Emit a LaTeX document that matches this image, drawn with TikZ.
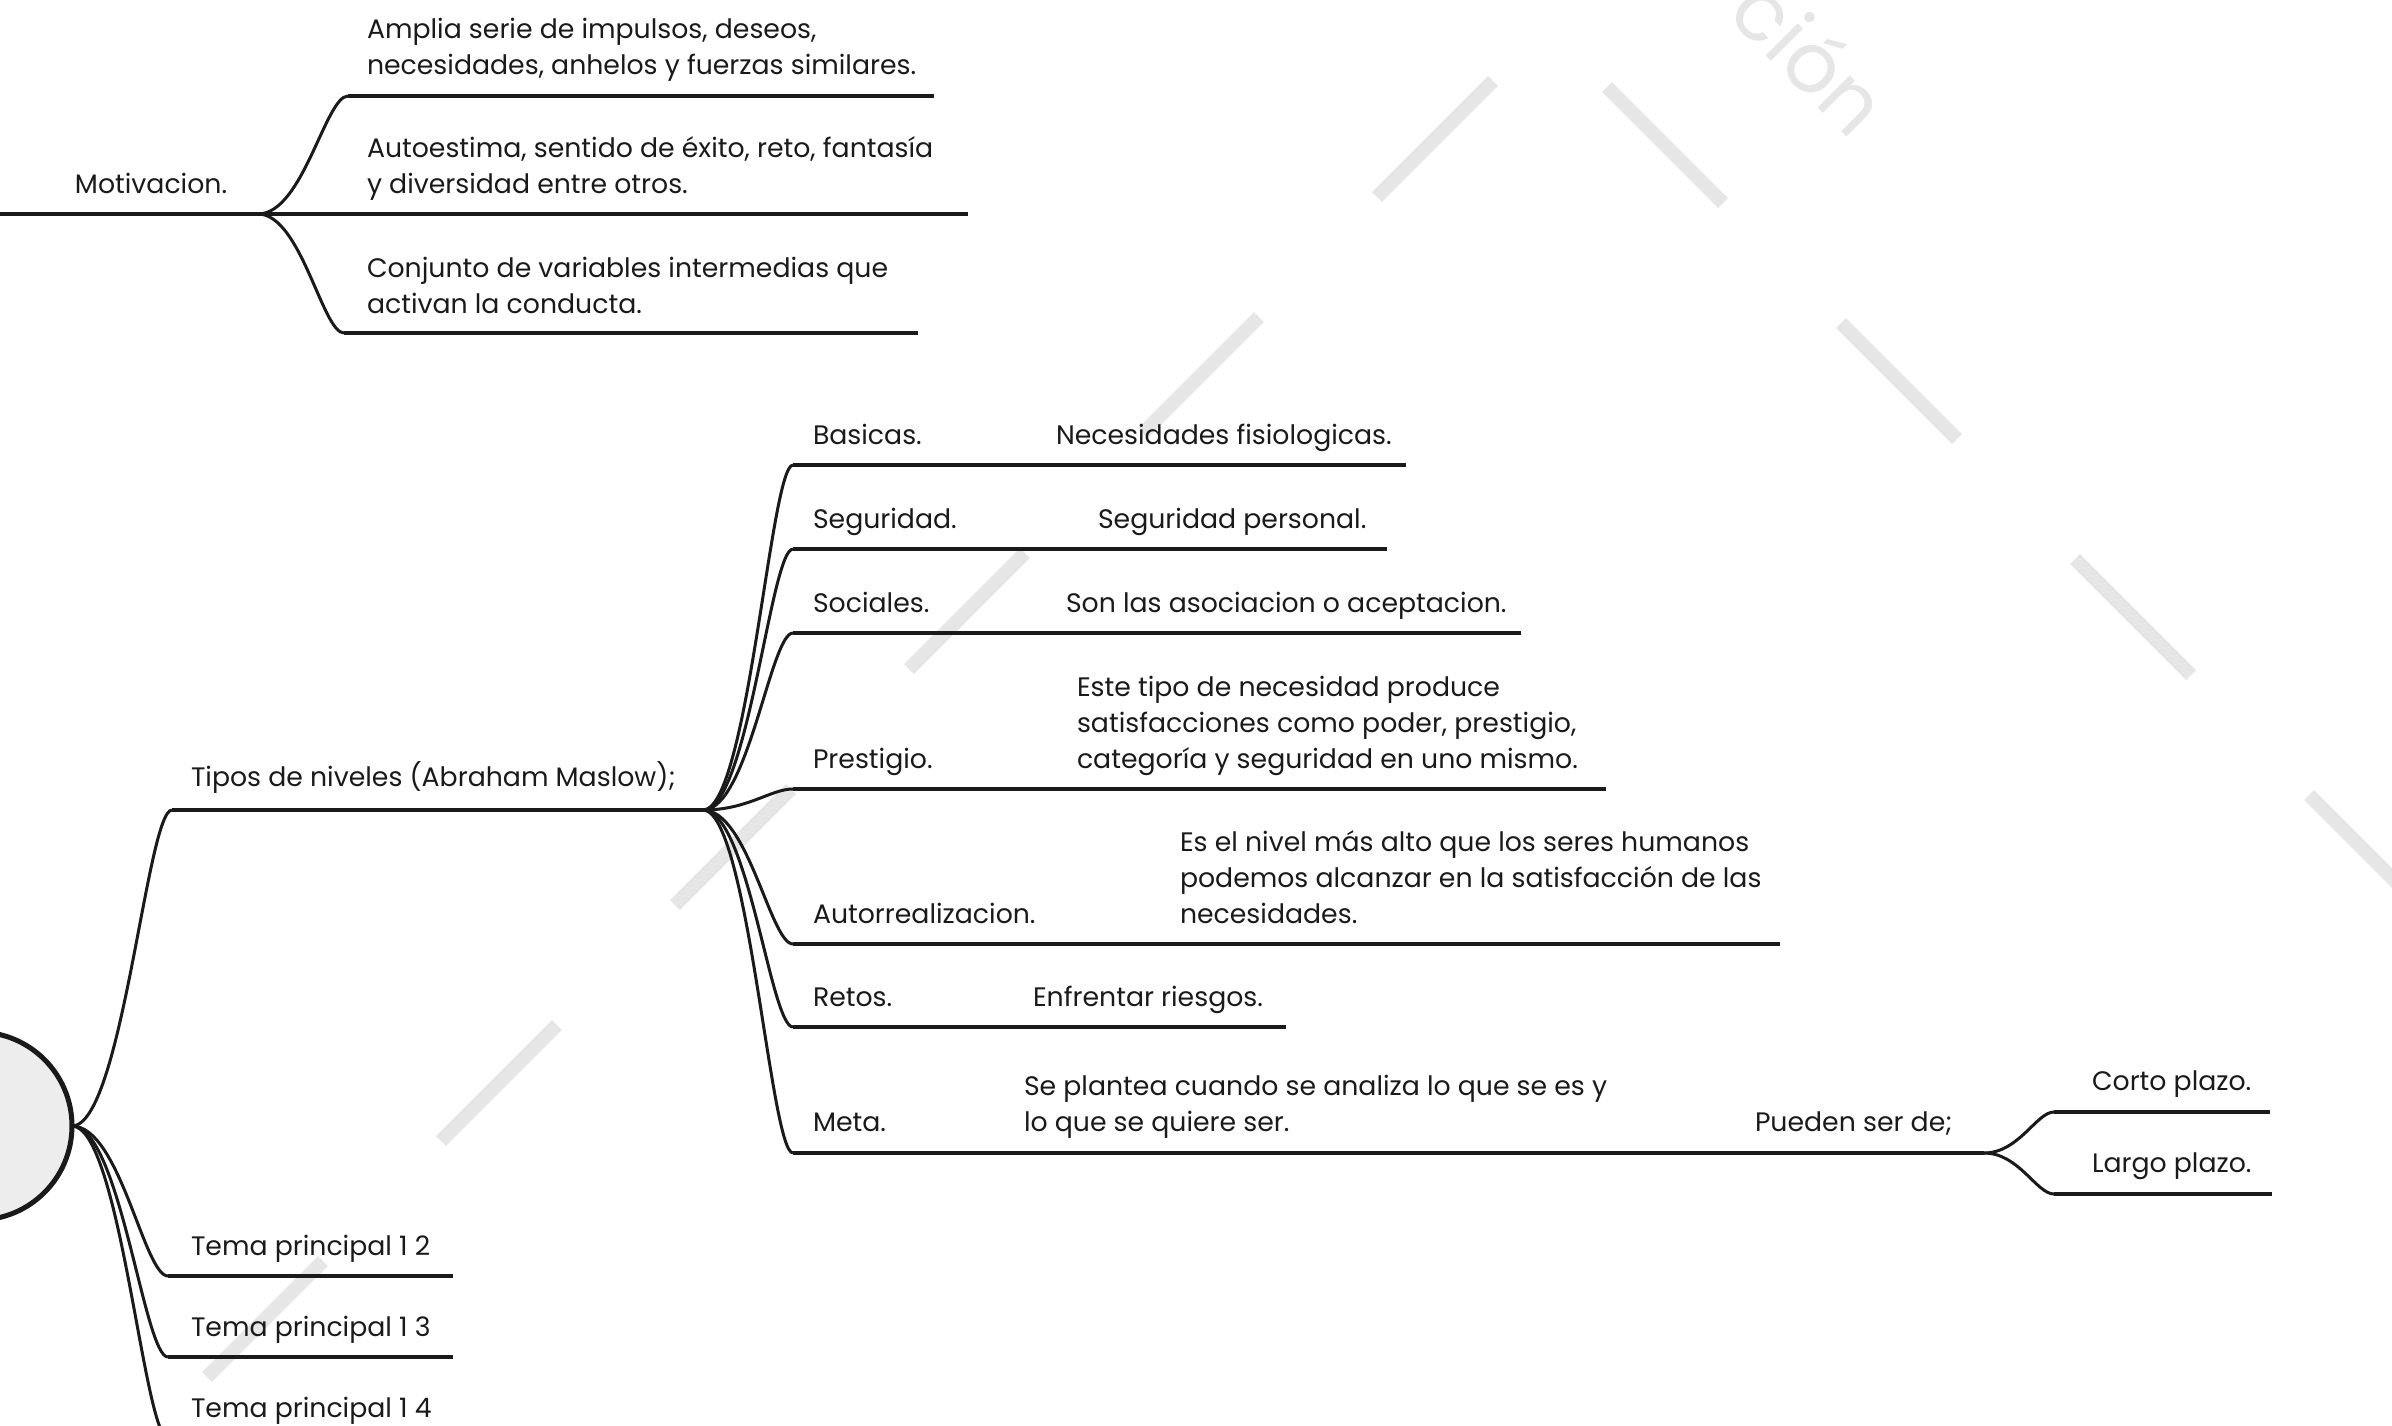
\documentclass[tikz,border=0pt]{standalone}
\usepackage{fontspec}
\setmainfont{Poppins}
\usetikzlibrary{calc}
\definecolor{wm}{HTML}{E6E6E6}
\definecolor{ink}{HTML}{1A1A1A}
\definecolor{rootfill}{HTML}{EDEDED}
\newcommand\conn[2]{\draw[branch] let \p1=(#1), \p2=(#2) in (\p1) .. controls ({\x1+0.5*(\x2-\x1)},\y1) and ({\x2-0.25*(\x2-\x1)},\y2) .. (\p2);}
\begin{document}
\begin{tikzpicture}[x=0.3pt,y=-0.3pt,
  branch/.style={draw=ink, line width=0.9pt},
  uline/.style={draw=ink, line width=1.2pt},
  lbl/.style={anchor=south west, inner sep=0pt, outer sep=0pt, text depth=0pt, align=left, text=ink, font=\fontsize{8.02}{10.8}\selectfont},
  wmbar/.style={draw=wm, line width=4.2pt},
]
\useasboundingbox (0,0) rectangle (2392,1425);
% watermark
\foreach \k in {0,...,5}{
  \draw[wmbar] ({265+234*\k-58},{1319-236*\k+58}) -- ({265+234*\k+58},{1319-236*\k-58});
}
\foreach \k in {0,...,3}{
  \draw[wmbar] ({1665+234*\k-58},{145+236*\k-58}) -- ({1665+234*\k+58},{145+236*\k+58});
}
\node[anchor=base east, rotate=-45, inner sep=0pt, text=wm, font=\fontsize{25}{30}\selectfont] (wmtext) at (1852,142) {ción};

% root
\node[circle, draw=ink, fill=rootfill, line width=1.5pt, minimum size=56.4pt, inner sep=0pt, outer sep=0pt] (root) at (-22,1126) {};

% Motivacion
\coordinate (mot0) at (-5,214);
\coordinate (mot1) at (258,214);
\draw[uline] (mot0) -- (mot1);
\node[lbl] (motT) at (75,193) {Motivacion.};
\coordinate (m1s) at (348,96);  \coordinate (m1e) at (934,96);
\coordinate (m2e) at (968,214);
\coordinate (m3s) at (344,333); \coordinate (m3e) at (918,333);
\conn{mot1}{m1s} \draw[uline] (m1s) -- (m1e);
\draw[uline] (mot1) -- (m2e);
\conn{mot1}{m3s} \draw[uline] (m3s) -- (m3e);
\node[lbl] (m1T) at (367,74) {Amplia serie de impulsos, deseos,\\necesidades, anhelos y fuerzas similares.};
\node[lbl] (m2T) at (367,193) {Autoestima, sentido de éxito, reto, fantasía\\y diversidad entre otros.};
\node[lbl] (m3T) at (367,313) {Conjunto de variables intermedias que\\activan la conducta.};

% Tipos
\coordinate (tip0) at (172,810);
\coordinate (tip1) at (703,810);
\conn{root.east}{tip0}
\draw[uline] (tip0) -- (tip1);
\node[lbl] (tipT) at (191,786) {Tipos de niveles (Abraham Maslow);};

\coordinate (bs) at (793,465);  \coordinate (be) at (1406,465);
\coordinate (ss) at (793,549);  \coordinate (se) at (1387,549);
\coordinate (cs) at (793,633);  \coordinate (ce) at (1521,633);
\coordinate (ps) at (793,789);  \coordinate (pe) at (1606,789);
\coordinate (as) at (793,944);  \coordinate (ae) at (1780,944);
\coordinate (rs) at (793,1027); \coordinate (re) at (1286,1027);
\coordinate (ms) at (793,1153); \coordinate (me) at (1984,1153);
\foreach \s/\e in {bs/be,ss/se,cs/ce,ps/pe,as/ae,rs/re,ms/me}{
  \conn{tip1}{\s}
  \draw[uline] (\s) -- (\e);
}
\node[lbl] (bT) at (813,444) {Basicas.};
\node[lbl] (bD) at (1056,444) {Necesidades fisiologicas.};
\node[lbl] (sT) at (813,528) {Seguridad.};
\node[lbl] (sD) at (1098,528) {Seguridad personal.};
\node[lbl] (cT) at (813,612) {Sociales.};
\node[lbl] (cD) at (1066,612) {Son las asociacion o aceptacion.};
\node[lbl] (pT) at (813,768) {Prestigio.};
\node[lbl] (pD) at (1077,768) {Este tipo de necesidad produce\\satisfacciones como poder, prestigio,\\categoría y seguridad en uno mismo.};
\node[lbl] (aT) at (813,923) {Autorrealizacion.};
\node[lbl] (aD) at (1180,923) {Es el nivel más alto que los seres humanos\\podemos alcanzar en la satisfacción de las\\necesidades.};
\node[lbl] (rT) at (813,1006) {Retos.};
\node[lbl] (rD) at (1033,1006) {Enfrentar riesgos.};
\node[lbl] (mT) at (813,1131) {Meta.};
\node[lbl] (mD) at (1024,1131) {Se plantea cuando se analiza lo que se es y\\lo que se quiere ser.};
\node[lbl] (mP) at (1755,1131) {Pueden ser de;};

\coordinate (ks) at (2054,1112); \coordinate (ke) at (2270,1112);
\coordinate (ls) at (2054,1194); \coordinate (le) at (2272,1194);
\conn{me}{ks} \draw[uline] (ks) -- (ke);
\conn{me}{ls} \draw[uline] (ls) -- (le);
\node[lbl] (kT) at (2092,1090) {Corto plazo.};
\node[lbl] (lT) at (2092,1172) {Largo plazo.};

% Tema principal
\coordinate (t2s) at (168,1276); \coordinate (t2e) at (453,1276);
\coordinate (t3s) at (168,1357); \coordinate (t3e) at (453,1357);
\coordinate (t4s) at (168,1438); \coordinate (t4e) at (453,1438);
\conn{root.east}{t2s} \draw[uline] (t2s) -- (t2e);
\conn{root.east}{t3s} \draw[uline] (t3s) -- (t3e);
\conn{root.east}{t4s} \draw[uline] (t4s) -- (t4e);
\node[lbl] (t2T) at (191,1255) {Tema principal 1 2};
\node[lbl] (t3T) at (191,1336) {Tema principal 1 3};
\node[lbl] (t4T) at (191,1417) {Tema principal 1 4};
\end{tikzpicture}
\end{document}
